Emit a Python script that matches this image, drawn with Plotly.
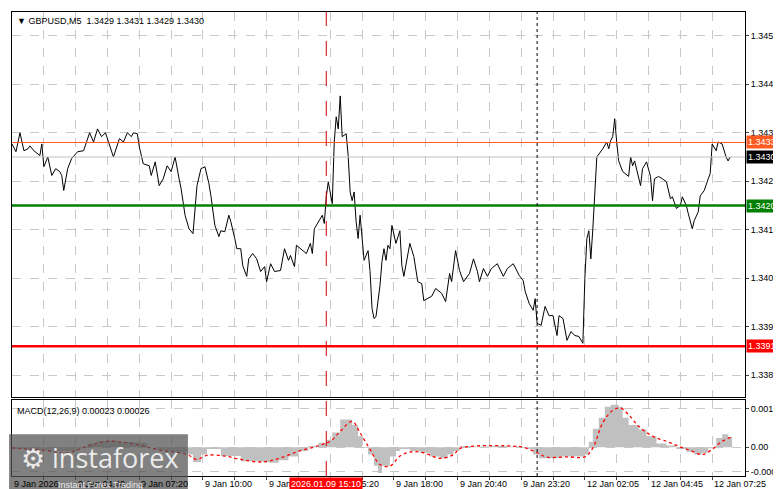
import plotly.graph_objects as go

# price (close) sampled along the M5 bar index
bars = [0, 2, 4, 6, 8, 9, 11, 14, 15, 16, 18, 20, 22, 24, 25, 26, 28, 30, 33, 36, 39, 41, 43, 45, 47, 49, 51, 54, 56, 58,
        60, 61, 63, 64, 66, 69, 70, 72, 74, 76, 78, 80, 82, 84, 85, 87, 89, 91, 93, 95, 97, 99, 100, 102, 104, 105, 107,
        109, 110, 112, 113, 115, 116, 118, 119, 121, 123, 125, 127, 128, 130, 132, 135, 137, 139, 140, 142, 143, 146, 148,
        150, 151, 152, 154, 156, 157, 158, 159, 160, 161, 162, 163, 164, 165, 166, 168, 169, 170, 171, 172, 173, 174, 175,
        176, 177, 179, 180, 181, 182, 183, 185, 186, 187, 188, 189, 190, 191, 193, 195, 196, 197, 200, 202, 204, 206, 207,
        209, 211, 213, 216, 218, 220, 221, 223, 225, 227, 230, 232, 234, 235, 237, 239, 241, 244, 247, 249, 252, 255, 257,
        258, 260, 262, 263, 264, 266, 268, 270, 272, 274, 275, 277, 279, 281, 283, 285, 287, 288, 289, 290, 291, 292, 293,
        294, 297, 299, 300, 301, 302, 303, 304, 305, 307, 310, 311, 312, 313, 315, 316, 317, 319, 321, 322, 323, 325, 327,
        329, 331, 332, 334, 336, 337, 339, 340, 342, 343, 345, 346, 348, 350, 351, 352, 354, 355, 357, 359, 360, 361]
prices = [1.34327, 1.34311, 1.3435, 1.34313, 1.34317, 1.34323, 1.34313, 1.34303, 1.34327, 1.3428, 1.3430, 1.34262, 1.34276,
          1.3427, 1.34262, 1.34231, 1.34276, 1.34297, 1.34311, 1.34313, 1.3435, 1.34331, 1.34358, 1.34342, 1.3435, 1.34327,
          1.3430, 1.34338, 1.34331, 1.3435, 1.34342, 1.3435, 1.34348, 1.34321, 1.34286, 1.34282, 1.34262, 1.3429, 1.34241,
          1.34255, 1.34282, 1.3427, 1.3430, 1.34255, 1.34235, 1.3418, 1.34152, 1.34142, 1.34241, 1.34276, 1.3428, 1.34245,
          1.3422, 1.34159, 1.34136, 1.34148, 1.34146, 1.3418, 1.34167, 1.34132, 1.34111, 1.34111, 1.34076, 1.34054, 1.3409,
          1.34101, 1.3409, 1.34064, 1.34074, 1.34043, 1.3408, 1.34064, 1.34066, 1.34111, 1.34087, 1.34097, 1.34074, 1.34118,
          1.34107, 1.34101, 1.34122, 1.34101, 1.34152, 1.34167, 1.3418, 1.34163, 1.34218, 1.34249, 1.34228, 1.34204, 1.34331,
          1.34383, 1.34358, 1.34426, 1.34342, 1.34348, 1.34303, 1.34228, 1.3421, 1.34228, 1.34167, 1.34132, 1.3418, 1.34132,
          1.34087, 1.34107, 1.34064, 1.33988, 1.33967, 1.33971, 1.34035, 1.34085, 1.34111, 1.34087, 1.34118, 1.34111, 1.34159,
          1.34122, 1.34148, 1.34076, 1.34054, 1.34122, 1.34095, 1.34043, 1.34039, 1.34004, 1.34008, 1.34013, 1.34029, 1.34019,
          1.34002, 1.3406, 1.34043, 1.34107, 1.34066, 1.34043, 1.3406, 1.3409, 1.34064, 1.34043, 1.3407, 1.34054, 1.3407,
          1.3408, 1.34054, 1.3407, 1.3408, 1.34056, 1.34045, 1.34023, 1.33998, 1.33984, 1.34008, 1.33957, 1.33953, 1.33992,
          1.33973, 1.33973, 1.33932, 1.33973, 1.33967, 1.33922, 1.3394, 1.33932, 1.3393, 1.33916, 1.3405, 1.34132, 1.34148,
          1.3409, 1.34152, 1.34235, 1.3430, 1.34317, 1.34331, 1.34317, 1.34334, 1.34342, 1.34379, 1.34331, 1.34292, 1.3427,
          1.3426, 1.3430, 1.34282, 1.34292, 1.3426, 1.34241, 1.34276, 1.3429, 1.3426, 1.3421, 1.34255, 1.3426, 1.34255,
          1.34249, 1.34214, 1.34218, 1.34194, 1.342, 1.34218, 1.342, 1.34183, 1.34152, 1.34169, 1.34187, 1.3422, 1.34231,
          1.34255, 1.34266, 1.34327, 1.34313, 1.34331, 1.34327, 1.3430, 1.34292, 1.3430]

hist_bars = [0, 8, 18, 28, 33, 38, 43, 48, 53, 58, 63, 68, 73, 78, 83, 88, 91, 95, 98, 105, 115, 124, 129, 134, 139, 144,
             149, 154, 158, 161, 165, 168, 171, 174, 176, 179, 182, 184, 186, 190, 193, 195, 200, 205, 210, 215, 219, 222,
             225, 232, 240, 249, 255, 259, 262, 265, 269, 275, 282, 288, 290, 292, 295, 298, 301, 305, 307, 310, 315, 319,
             324, 329, 334, 339, 343, 347, 350, 354, 357, 360, 362]
hist_vals = [-0.00005, -0.00008, -0.0001, -0.0001, -0.00003, 0.0001, 0.00017, 0.00018, 0.00014, 0.00014, 0.00012, 0.0,
             -0.00008, -0.00012, -0.00015, -0.0002, -0.0004, -0.0002, -0.00005, -0.00024, -0.00038, -0.0004, -0.00042,
             -0.00035, -0.00025, -0.0001, 0.00003, 0.00012, 0.0002, 0.0004, 0.00075, 0.00075, 0.0006, 0.0003, -0.00002,
             -0.0002, -0.0005, -0.0007, -0.0005, -0.00025, -0.0001, -0.00005, -0.0001, -0.00015, -0.00025, -0.0003,
             -0.0002, -0.0001, 0.00003, 0.00002, 0.00003, 0.00002, 0.0, -0.00005, -0.0002, -0.0003, -0.0003, -0.00025,
             -0.00025, -0.0002, 0.00015, 0.0005, 0.0008, 0.0011, 0.00115, 0.0011, 0.0008, 0.0006, 0.00048, 0.0003, 0.0001,
             0.00005, -0.00005, -0.00012, -0.0002, -0.00015, -0.00003, 0.00025, 0.00035, 0.00028, 0.00023]

sig_bars = [0, 15, 28, 38, 48, 63, 73, 88, 93, 98, 107, 115, 125, 134, 144, 154, 160, 165, 171, 175, 180, 185, 190, 195,
            200, 207, 215, 222, 225, 232, 252, 257, 264, 269, 279, 288, 292, 297, 302, 306, 310, 315, 322, 329, 335, 342,
            347, 352, 357, 362]
sig_vals = [-0.00002, -0.00008, -0.00015, 0.00003, 0.00016, 0.00007, -0.00006, -0.0002, -0.00033, -0.00022, -0.00024,
            -0.00033, -0.0004, -0.00031, -0.00011, 0.00004, 0.00016, 0.00043, 0.0007, 0.00039, -0.00006, -0.00047,
            -0.00051, -0.00024, -0.00013, -0.00015, -0.0003, -0.0002, -0.00004, 0.00003, 0.00003, 0.0, -0.00015,
            -0.00027, -0.00026, -0.00026, -0.00002, 0.00066, 0.001, 0.00106, 0.00088, 0.00057, 0.0003, 0.00016, 0.00003,
            -0.00011, -0.0002, -0.00006, 0.00016, 0.00028]

price_ticks = [1.3455, 1.3445, 1.3435, 1.3425, 1.3415, 1.3405, 1.3395, 1.3385]
macd_ticks = [0.00105, 0.0, -0.00067]
macd_tick_text = ["0.00105", "0.00", "-0.00067"]
time_ticks = [0, 32, 64, 96, 128, 160, 192, 224, 256, 288, 320, 352]
time_labels = ["9 Jan 2026", "9 Jan 04:40", "9 Jan 07:20", "9 Jan 10:00", "9 Jan 12:40", "9 Jan 15:20",
               "9 Jan 18:00", "9 Jan 20:40", "9 Jan 23:20", "12 Jan 02:05", "12 Jan 04:45", "12 Jan 07:25"]
levels = [(1.3433, "#ff5a1f", 1), (1.3420, "#008000", 2.5), (1.3391, "#ff0000", 2.5)]
last_price = 1.3430
cursor_bar = 158
day_bar = 264

font = "Liberation Sans, Arial, sans-serif"
fs = 9
fig = go.Figure()

fig.add_trace(go.Scatter(x=bars, y=prices, mode="lines", line=dict(color="black", width=1),
                         xaxis="x", yaxis="y", hoverinfo="skip"))
fig.add_trace(go.Scatter(x=hist_bars, y=hist_vals, mode="lines", line=dict(color="#c0c0c0", width=0, shape="hv"),
                         fill="tozeroy", fillcolor="#c0c0c0", xaxis="x2", yaxis="y2", hoverinfo="skip"))
fig.add_trace(go.Scatter(x=sig_bars, y=sig_vals, mode="lines", line=dict(color="#ff0000", width=1.3, dash="dot", shape="spline"),
                         xaxis="x2", yaxis="y2", hoverinfo="skip"))

grid = dict(showgrid=True, gridcolor="#c8c8c8", griddash="dash", gridwidth=1)
border = dict(showline=True, linecolor="black", linewidth=1, mirror=True, zeroline=False)

fig.update_layout(
    width=781, height=489, margin=dict(l=3, r=41, t=3, b=21),
    paper_bgcolor="white", plot_bgcolor="white", showlegend=False,
    font=dict(family=font, size=fs, color="black"),
    xaxis=dict(domain=[0, 1], range=[0, 368.5], anchor="y", tickvals=list(range(16, 368, 16)),
               showticklabels=False, **grid, **border),
    xaxis2=dict(domain=[0, 1], range=[0, 368.5], anchor="y2", tickvals=list(range(16, 368, 16)),
                showticklabels=False, ticks="outside", ticklen=3, **grid, **border),
    yaxis=dict(domain=[0.17, 1], range=[1.33805, 1.34599], side="right", tickvals=price_ticks,
               tickformat=".4f", ticks="outside", ticklen=3, **grid, **border),
    yaxis2=dict(domain=[0, 0.163], range=[-0.00078, 0.00127], side="right", tickvals=macd_ticks,
                ticktext=macd_tick_text, ticks="outside", ticklen=3, **grid, **border),
)

# horizontal levels
fig.add_hline(y=last_price, line=dict(color="#c0c0c0", width=1), xref="x", yref="y")
for lvl, col, w in levels:
    fig.add_shape(type="line", xref="x domain", yref="y", x0=0, x1=1, y0=lvl, y1=lvl, line=dict(color=col, width=w))
    fig.add_annotation(xref="paper", yref="y", x=1.002, y=lvl, xanchor="left", text=f"{lvl:.4f}", showarrow=False,
                       bgcolor=col, font=dict(color="white", size=fs, family=font), borderpad=1)
fig.add_annotation(xref="paper", yref="y", x=1.002, y=last_price, xanchor="left", text=f"{last_price:.4f}",
                   showarrow=False, bgcolor="black", font=dict(color="white", size=fs, family=font), borderpad=1)

# vertical markers
fig.add_shape(type="line", xref="x", yref="paper", x0=cursor_bar, x1=cursor_bar, y0=0, y1=1,
              line=dict(color="#d00000", width=1, dash="longdash"))
fig.add_shape(type="line", xref="x", yref="paper", x0=day_bar, x1=day_bar, y0=0, y1=1,
              line=dict(color="black", width=1, dash="dot"))

# time labels, left-aligned on the ticks
for b, lab in zip(time_ticks, time_labels):
    fig.add_annotation(xref="x2", yref="paper", x=b, y=0, yshift=-1, xanchor="left", yanchor="top",
                       text=lab, showarrow=False, font=dict(size=fs, family=font))
fig.add_annotation(xref="x2", yref="paper", x=cursor_bar, y=0, yshift=-1, xanchor="center", yanchor="top",
                   text="2026.01.09 15:10", showarrow=False, bgcolor="#ff0000",
                   font=dict(size=fs, family=font, color="white"))

fig.add_annotation(xref="paper", yref="paper", x=0.004, y=0.995, xanchor="left", yanchor="top", showarrow=False,
                   text="▼ GBPUSD,M5  1.3429 1.3431 1.3429 1.3430", font=dict(size=fs, family=font))
fig.add_annotation(xref="paper", yref="paper", x=0.004, y=0.155, xanchor="left", yanchor="top", showarrow=False,
                   text="MACD(12,26,9) 0.00023 0.00026", font=dict(size=fs, family=font))

# watermark
fig.add_shape(type="rect", xref="paper", yref="paper", x0=-0.004, x1=0.24, y0=-0.045, y1=0.09,
              fillcolor="rgba(80,80,80,0.72)", line=dict(width=0), layer="above")
fig.add_annotation(xref="paper", yref="paper", x=0.01, y=0.085, xanchor="left", yanchor="top", showarrow=False,
                   text="⚙ instaforex", font=dict(size=27, family="Open Sans, sans-serif", color="rgba(255,255,255,0.85)"))
fig.add_annotation(xref="paper", yref="paper", x=0.06, y=-0.005, xanchor="left", yanchor="top", showarrow=False,
                   text="Instant Forex Trading", font=dict(size=fs, family=font, color="rgba(255,255,255,0.85)"))

fig.write_html("out.html")
